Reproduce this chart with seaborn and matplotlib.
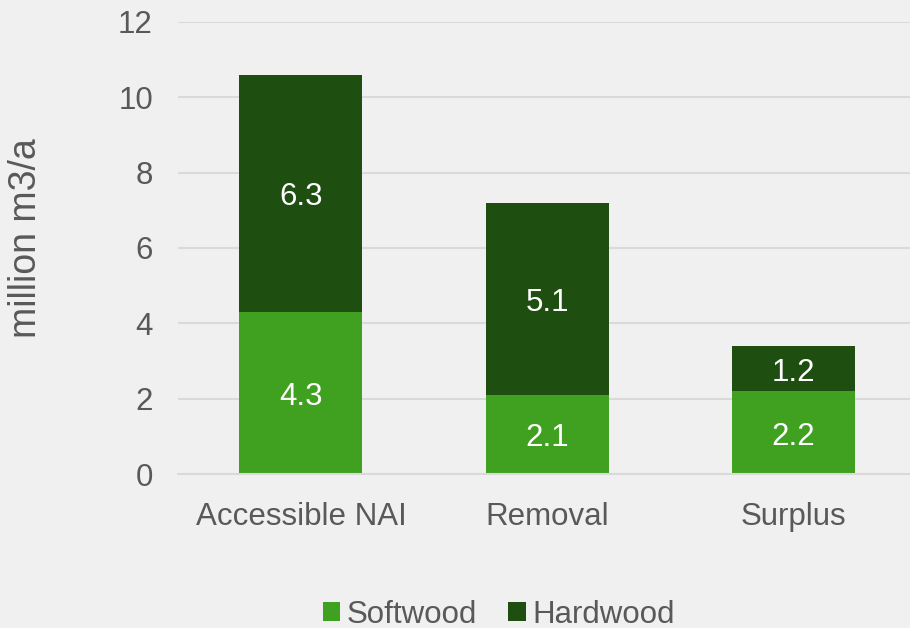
import matplotlib
matplotlib.use("Agg")
import matplotlib.pyplot as plt
import seaborn as sns
import pandas as pd
from matplotlib.patches import Patch

categories = ["Accessible NAI", "Removal", "Surplus"]
softwood = [4.3, 2.1, 2.2]
hardwood = [6.3, 5.1, 1.2]
series_names = ["Softwood", "Hardwood"]
colors = ["#40A020", "#1F4E11"]
yticks = [0, 2, 4, 6, 8, 10, 12]

bg = "#F0F0F0"
txt = "#595959"
grid = "#D9D9D9"

sns.set_theme(style="white")
plt.rcParams["font.family"] = ["Liberation Sans", "DejaVu Sans"]

fig = plt.figure(figsize=(9.10, 6.28), dpi=100, facecolor=bg)
ax = fig.add_axes([0.1956, 0.2452, 0.811, 0.7198])
ax.set_facecolor(bg)

df = pd.DataFrame({"cat": categories, "soft": softwood, "hard": hardwood})
df["total"] = df["soft"] + df["hard"]

sns.barplot(data=df, x="cat", y="total", color=colors[1], width=0.5, ax=ax,
            saturation=1, zorder=3, linewidth=0, edgecolor="none")
sns.barplot(data=df, x="cat", y="soft", color=colors[0], width=0.5, ax=ax,
            saturation=1, zorder=3, linewidth=0, edgecolor="none")

fs = 22.5
for i, (s, h) in enumerate(zip(softwood, hardwood)):
    ax.annotate(f"{s}", (i, s / 2), xytext=(0, -4), textcoords="offset pixels",
                ha="center", va="center", color="white", fontsize=fs, zorder=4)
    ax.annotate(f"{h}", (i, s + h / 2), xytext=(0, -4), textcoords="offset pixels",
                ha="center", va="center", color="white", fontsize=fs, zorder=4)

ax.set_ylim(0, 12)
ax.set_xlim(-0.5, 2.5)
ax.set_yticks(yticks)
ax.set_yticklabels([str(v) for v in yticks], fontsize=fs, color=txt)
ax.yaxis.grid(True, color=grid, linewidth=1.5, zorder=0)
ax.set_axisbelow(True)
ax.tick_params(axis="y", length=0, pad=18)
ax.tick_params(axis="x", which="major", length=0, pad=20, labelsize=fs, labelcolor=txt)
ax.set_xticks([-0.5, 0.5, 1.5, 2.5], minor=True)
ax.tick_params(axis="x", which="minor", length=7, width=1.5, color=grid, direction="out")
for sp in ["top", "right", "left"]:
    ax.spines[sp].set_visible(False)
ax.spines["bottom"].set_color(grid)
ax.spines["bottom"].set_linewidth(1.5)
ax.spines["bottom"].set_zorder(5)

ax.set_xlabel("")
ax.set_ylabel("million m3/a", fontsize=27, color=txt)
ax.yaxis.set_label_coords(-0.182, 0.522)

handles = [Patch(facecolor=c, edgecolor="none") for c in colors]
fig.legend(handles, series_names, loc="center", bbox_to_anchor=(0.548, 0.021),
           ncol=2, frameon=False, fontsize=fs, labelcolor=txt,
           handlelength=0.56, handleheight=0.56, handletextpad=0.2, columnspacing=1.0)

fig.savefig("out.png", dpi=100, facecolor=bg)
